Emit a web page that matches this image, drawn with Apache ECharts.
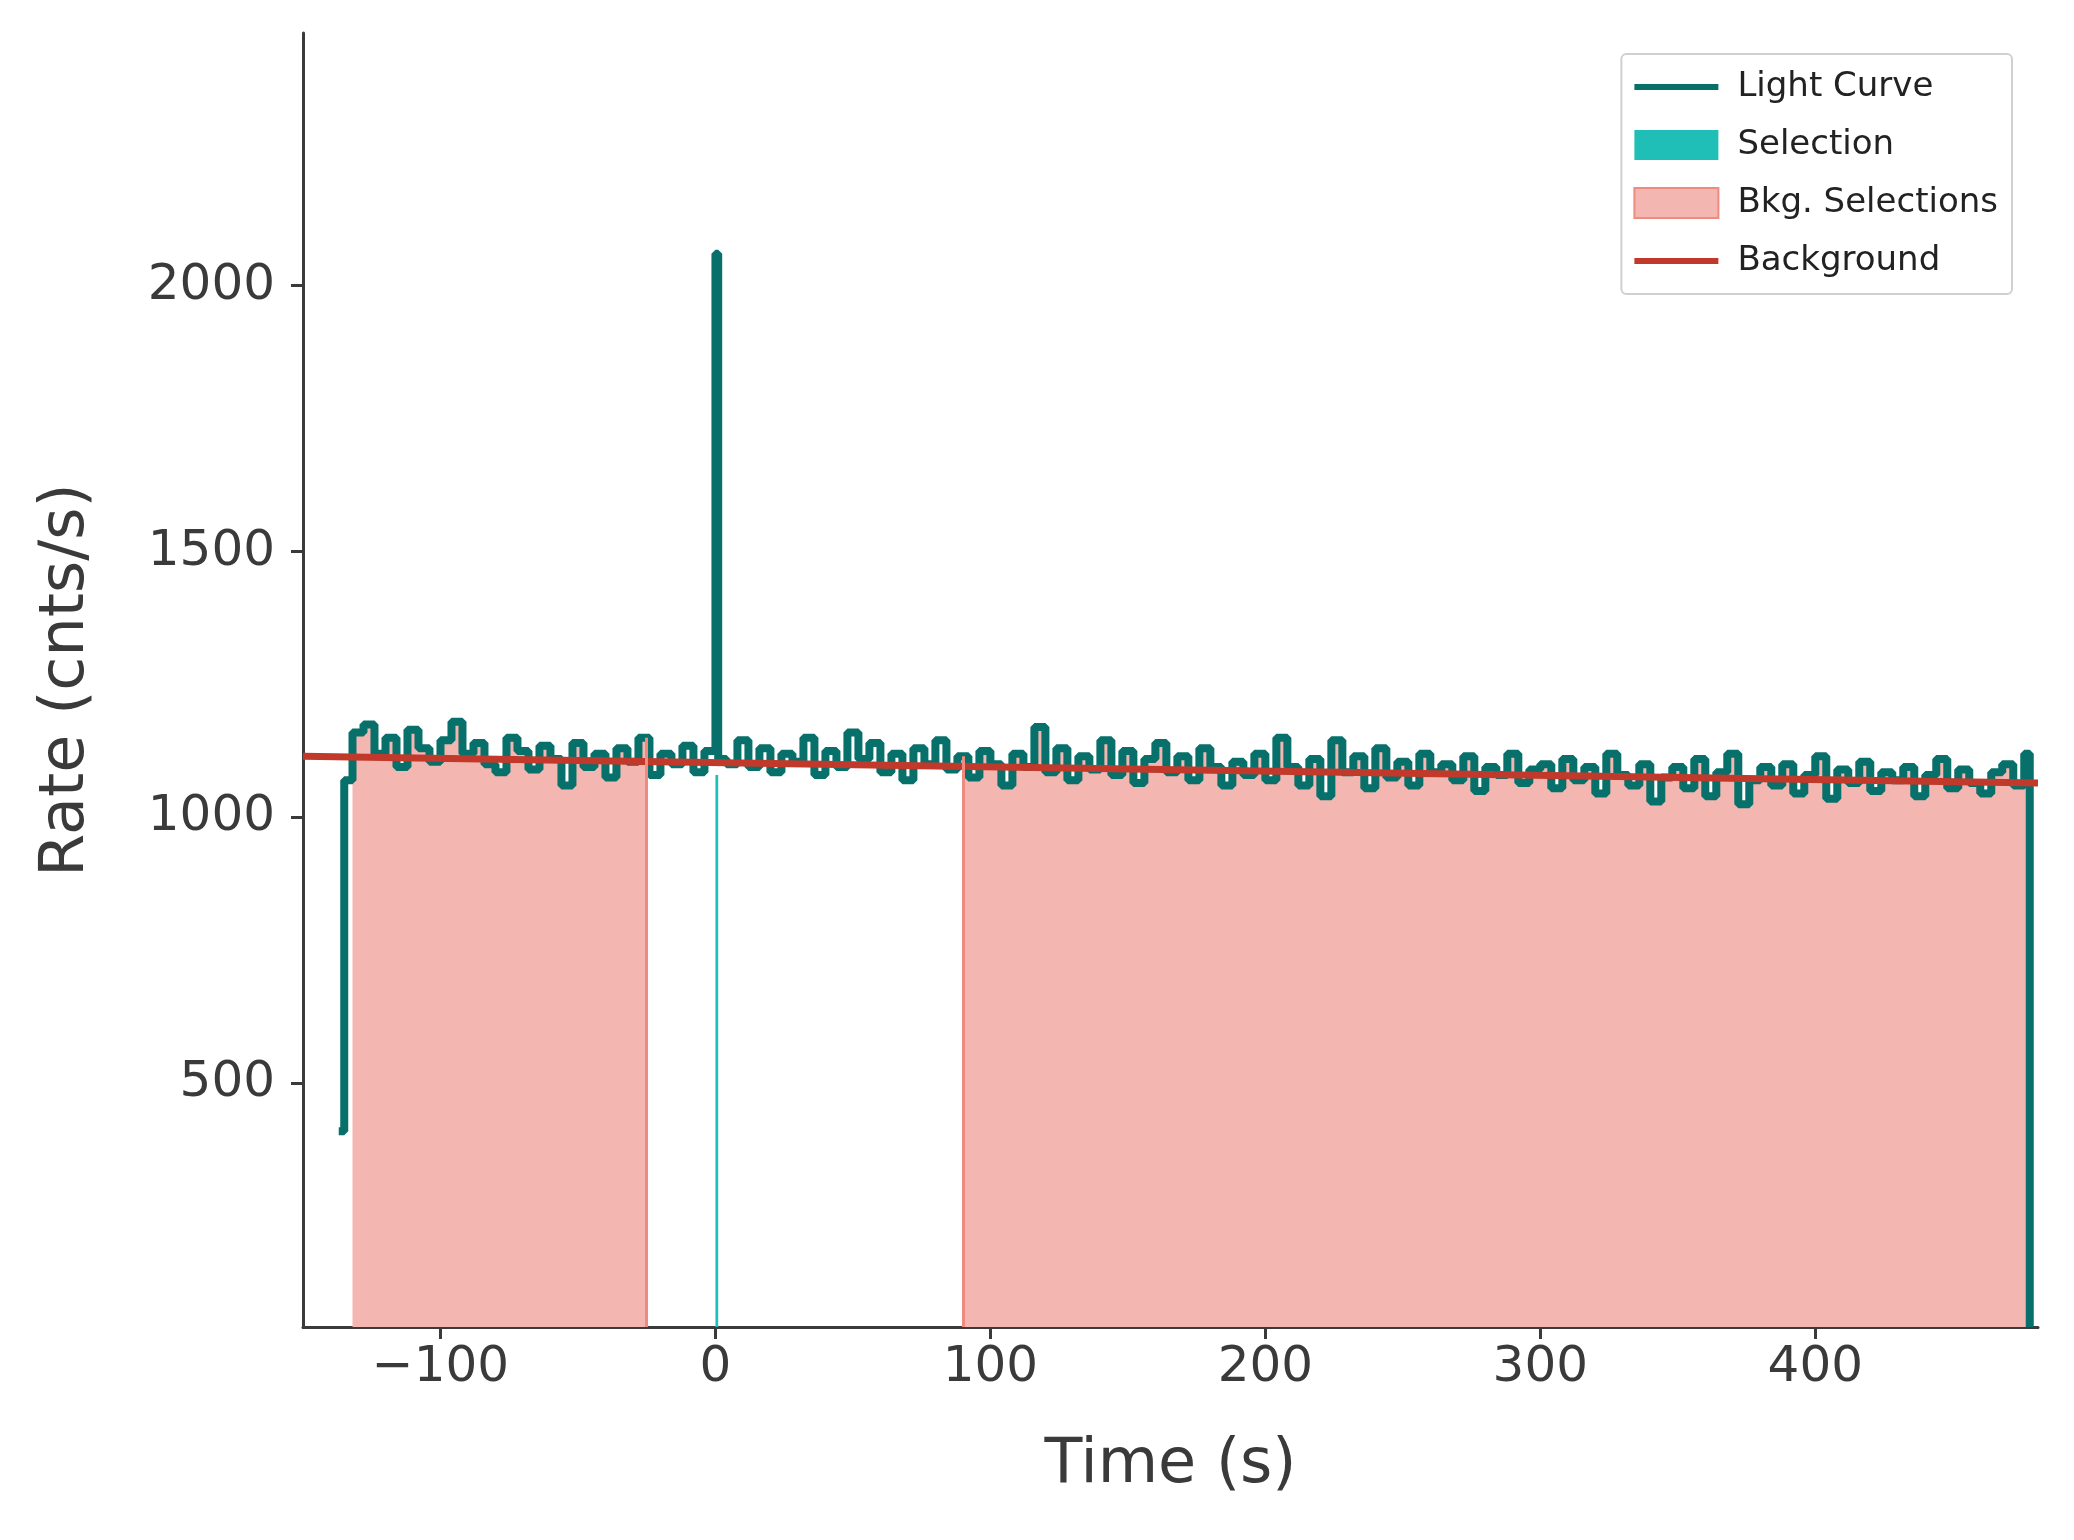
<!DOCTYPE html>
<html>
<head>
<meta charset="utf-8">
<script src="https://cdn.jsdelivr.net/npm/echarts@6/dist/echarts.min.js"></script>
<style>html,body{margin:0;background:#fff}#main{width:2074px;height:1540px}</style>
</head>
<body>
<div id="main"></div>
<script>
// light curve, 4 s bins starting at -132 s
const binStart = -132;
const binWidth = 4;
const lcRate = [
  1160,1175,1120,1150,1095,1165,1130,1105,1145,1180,
  1120,1140,1100,1085,1150,1125,1090,1135,1110,1060,
  1140,1095,1120,1075,1130,1105,1150,1080,1120,1100,
  1135,1085,1125,1110,1100,1145,1095,1130,1085,1120,
  1105,1150,1080,1125,1095,1160,1110,1140,1085,1120,
  1070,1130,1100,1145,1090,1115,1075,1125,1100,1060,
  1120,1095,1170,1085,1130,1070,1115,1090,1145,1080,
  1125,1065,1110,1140,1085,1115,1070,1130,1095,1060,
  1105,1080,1120,1070,1150,1095,1060,1110,1040,1145,
  1085,1115,1055,1130,1075,1105,1060,1120,1085,1100,
  1070,1115,1050,1095,1080,1120,1065,1090,1100,1055,
  1110,1070,1095,1045,1120,1080,1060,1100,1030,1075,
  1095,1055,1110,1040,1085,1120,1025,1070,1095,1060,
  1100,1045,1080,1115,1035,1090,1065,1105,1050,1085,
  1070,1095,1040,1080,1110,1055,1090,1065,1045,1085,
  1100,1060,1120
];
const leadIn = [[-137, 410], [-135, 1070]];
const spike = [[0, 2060], [1, 1110]];
const tEnd = 478;
const bkgRanges = [[-132, -25], [90, 478]];
const selRange = [0, 1];
const bkgLine = [[-150, 1115], [481, 1065]];
const xTicks = [-100, 0, 100, 200, 300, 400];
const yTicks = [500, 1000, 1500, 2000];

const lc = leadIn.slice();
lcRate.forEach((v, i) => {
  const t = binStart + i * binWidth;
  if (t === 0) { lc.push(...spike); return; }
  lc.push([t, v]);
});
lc.push([tEnd, lcRate[lcRate.length - 1]]);
const lcFull = lc.concat([[tEnd, 42]]);

function valueAt(t) {
  let v = null;
  lc.forEach(p => { if (p[0] <= t) v = p[1]; });
  return v;
}
const bkgFills = bkgRanges.map(r => {
  const d = [[r[0], valueAt(r[0])]];
  lc.forEach(p => { if (p[0] > r[0] && p[0] < r[1]) d.push(p); });
  d.push([r[1], valueAt(r[1] - 0.01)]);
  return d;
});
const selFill = [[selRange[0], 1080], [selRange[1], 1080]];

const txt = '#3a3a3a';
const font = 'DejaVu Sans';
const bkgSeries = bkgFills.map(d => ({
  name: 'Bkg. Selections', type: 'line', step: 'end', data: d, symbol: 'none',
  lineStyle: { width: 0 }, itemStyle: { color: '#f4b6b0' },
  areaStyle: { color: '#f4b6b0', opacity: 1, origin: 'start' }, z: 1
}));
const chart = echarts.init(document.getElementById('main'));
chart.setOption({
  animation: false,
  grid: { left: 303, right: 36, top: 33, bottom: 213 },
  legend: {
    right: 62, top: 54, orient: 'vertical', itemGap: 24,
    borderColor: '#d0d0d0', borderWidth: 2, borderRadius: 5, padding: [16, 14, 16, 12],
    itemWidth: 84, itemHeight: 30,
    textStyle: { fontSize: 34, color: '#222', fontFamily: font, padding: [0, 0, 0, 14] },
    data: [
      { name: 'Light Curve', icon: 'path://M0,13h84v6h-84z', itemStyle: { color: '#07706a' } },
      { name: 'Selection', icon: 'rect', itemStyle: { color: '#1fbfb8' } },
      { name: 'Bkg. Selections', icon: 'rect', itemStyle: { color: '#f4b6b0', borderColor: '#ee8a80', borderWidth: 2 } },
      { name: 'Background', icon: 'path://M0,13h84v6h-84z', itemStyle: { color: '#c0392b' } }
    ]
  },
  xAxis: {
    type: 'value', min: -150, max: 481,
    name: 'Time (s)', nameLocation: 'middle', nameGap: 108,
    nameTextStyle: { fontSize: 62, color: txt, fontFamily: font },
    axisLine: { onZero: false, lineStyle: { color: txt, width: 3 } },
    axisTick: { length: 12, lineStyle: { color: txt, width: 3 }, customValues: xTicks },
    axisLabel: { fontSize: 50, color: txt, margin: 16, fontFamily: font,
      formatter: v => (v < 0 ? '\u2212' + (-v) : '' + v), customValues: xTicks },
    splitLine: { show: false }
  },
  yAxis: {
    type: 'value', min: 42, max: 2475,
    name: 'Rate (cnts/s)', nameLocation: 'middle', nameGap: 205,
    nameTextStyle: { fontSize: 62, color: txt, fontFamily: font },
    axisLine: { show: true, onZero: false, lineStyle: { color: txt, width: 3 } },
    axisTick: { show: true, length: 12, lineStyle: { color: txt, width: 3 }, customValues: yTicks },
    axisLabel: { fontSize: 50, color: txt, margin: 28, fontFamily: font, formatter: v => '' + v, customValues: yTicks },
    splitLine: { show: false }
  },
  series: bkgSeries.concat([
    { name: 'Bkg. edges', type: 'line', data: [], symbol: 'none',
      markLine: { silent: true, symbol: 'none', label: { show: false },
        lineStyle: { color: '#ee8a80', width: 3, type: 'solid' },
        data: [[{ coord: [-25, 42] }, { coord: [-25, valueAt(-25.01)] }],
               [{ coord: [90, 42] }, { coord: [90, valueAt(90)] }]] }, z: 1 },
    { name: 'Selection', type: 'line', step: 'end', data: selFill, symbol: 'none',
      lineStyle: { width: 0 }, itemStyle: { color: '#1fbfb8' },
      areaStyle: { color: '#1fbfb8', opacity: 1, origin: 'start' }, z: 2 },
    { name: 'Light Curve', type: 'line', step: 'end', data: lcFull, symbol: 'none',
      lineStyle: { color: '#07706a', width: 8 }, itemStyle: { color: '#07706a' }, z: 3 },
    { name: 'Background', type: 'line', data: bkgLine, symbol: 'none',
      lineStyle: { color: '#c0392b', width: 7 }, itemStyle: { color: '#c0392b' }, z: 4 }
  ])
});
</script>
</body>
</html>
